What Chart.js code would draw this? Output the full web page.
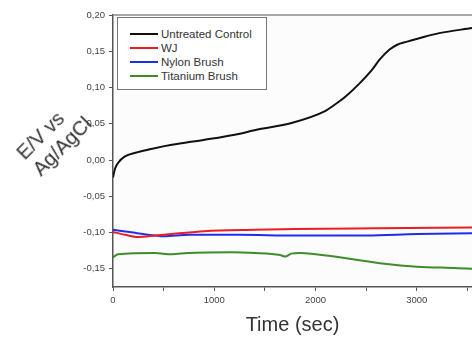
<!DOCTYPE html>
<html lang="en">
<head>
    <meta charset="UTF-8">
    <title>E/V vs Ag/AgCl over time</title>
    <script src="https://cdn.jsdelivr.net/npm/chart.js"></script>
    <style>
        body {
            margin: 0;
            background: white;
            font-family: 'Liberation Sans', Arial, sans-serif;
        }
        .wrap {
            position: relative;
            width: 472px;
            height: 337px;
            overflow: hidden;
        }
        canvas { position: absolute; left: 0; top: 0; }
        .ytitle {
            position: absolute;
            left: 12px;
            top: 148px;
            font-size: 20px;
            line-height: 23px;
            white-space: nowrap;
            text-align: left;
            color: #333;
            transform-origin: 0 0;
            transform: rotate(-45deg);
        }
        .legend {
            position: absolute;
            left: 117px;
            top: 17px;
            width: 148px;
            height: 70px;
            border: 1px solid #777;
            background: white;
            padding-top: 1px;
            box-sizing: content-box;
        }
        .legend .row {
            height: 14px;
            display: flex;
            align-items: center;
            font-size: 11.5px;
            color: #333;
        }
        .legend .row:first-child { margin-top: 8px; }
        .legend .swatch {
            width: 28px;
            height: 2px;
            margin-left: 12px;
            margin-right: 3px;
        }
    </style>
</head>
<body>
<div class="wrap">
    <canvas id="potChart" width="472" height="337"></canvas>
    <div class="ytitle">E/V vs<br>Ag/AgCl</div>
    <div class="legend" id="legend"></div>
</div>

<script>
    // values
    const seriesNames = ['Untreated Control', 'WJ', 'Nylon Brush', 'Titanium Brush'];
    const seriesColors = ['#111111', '#ec1c24', '#1f2cf0', '#3f8c2c'];

    const controlTime = [0, 20, 50, 118, 246, 400, 581, 906, 1202, 1428, 1763, 2088, 2216, 2300, 2430, 2561, 2630, 2728, 2807, 2896, 3024, 3221, 3545];
    const controlValue = [-0.024, -0.012, -0.004, 0.005, 0.011, 0.016, 0.021, 0.028, 0.035, 0.042, 0.051, 0.067, 0.079, 0.088, 0.105, 0.125, 0.138, 0.152, 0.159, 0.163, 0.168, 0.175, 0.182];

    const wjTime = [0, 120, 250, 420, 580, 900, 1400, 1800, 2600, 3545];
    const wjValue = [-0.099, -0.103, -0.106, -0.104, -0.102, -0.098, -0.096, -0.095, -0.094, -0.093];

    const nylonTime = [0, 200, 420, 500, 750, 1250, 1800, 2500, 3000, 3545];
    const nylonValue = [-0.096, -0.100, -0.104, -0.105, -0.103, -0.103, -0.104, -0.104, -0.102, -0.101];

    const titaniumTime = [0, 50, 414, 581, 740, 1172, 1400, 1650, 1700, 1760, 1850, 2000, 2286, 2680, 3004, 3400, 3545];
    const titaniumValue = [-0.134, -0.130, -0.128, -0.130, -0.128, -0.127, -0.128, -0.131, -0.133, -0.129, -0.128, -0.130, -0.135, -0.143, -0.147, -0.149, -0.150];

    const xTicks = [0, 500, 1000, 1500, 2000, 2500, 3000, 3500];
    const xTickLabels = ['0', '', '1000', '', '2000', '', '3000', ''];
    const yTicks = [-0.15, -0.10, -0.05, 0.00, 0.05, 0.10, 0.15, 0.20];
    const yTickLabels = ['-0,15', '-0,10', '-0,05', '0,00', '0,05', '0,10', '0,15', '0,20'];
    const xMin = 0, xMax = 3545;
    const yMin = -0.175, yMax = 0.20;

    const seriesTimes = [controlTime, wjTime, nylonTime, titaniumTime];
    const seriesValues = [controlValue, wjValue, nylonValue, titaniumValue];

    const tickFont = { family: "'Liberation Sans', Arial, sans-serif", size: 9.5 };
    const axisColor = '#555';

    // legend as html so it can carry a frame
    const legendEl = document.getElementById('legend');
    seriesNames.forEach((name, i) => {
        const row = document.createElement('div');
        row.className = 'row';
        const sw = document.createElement('span');
        sw.className = 'swatch';
        sw.style.background = seriesColors[i];
        row.appendChild(sw);
        row.appendChild(document.createTextNode(name));
        legendEl.appendChild(row);
    });

    const plotFrame = {
        id: 'plotFrame',
        beforeDraw(chart) {
            const { ctx, chartArea: a } = chart;
            ctx.save();
            ctx.fillStyle = '#fcfcfc';
            ctx.fillRect(a.left, a.top, a.right - a.left, a.bottom - a.top);
            ctx.restore();
        },
        afterDraw(chart) {
            const { ctx, chartArea: a } = chart;
            ctx.save();
            ctx.strokeStyle = '#8a8a8a';
            ctx.lineWidth = 1.5;
            ctx.beginPath();
            ctx.moveTo(a.left, a.top);
            ctx.lineTo(a.right, a.top);
            ctx.stroke();
            ctx.restore();
        }
    };

    const datasets = seriesNames.map((name, i) => ({
        label: name,
        data: seriesTimes[i].map((t, k) => ({ x: t, y: seriesValues[i][k] })),
        borderColor: seriesColors[i],
        backgroundColor: seriesColors[i],
        borderWidth: 2,
        pointRadius: 0,
        cubicInterpolationMode: 'monotone'
    }));

    new Chart(document.getElementById('potChart'), {
        type: 'line',
        data: { datasets: datasets },
        options: {
            responsive: false,
            animation: false,
            layout: { padding: { top: 15, left: 0, right: 0, bottom: 0 } },
            plugins: {
                legend: { display: false },
                tooltip: { enabled: false }
            },
            scales: {
                x: {
                    type: 'linear',
                    min: xMin,
                    max: xMax,
                    afterFit: s => { s.height = 50; },
                    afterBuildTicks: s => { s.ticks = xTicks.map(v => ({ value: v })); },
                    ticks: {
                        autoSkip: false,
                        maxRotation: 0,
                        padding: 4,
                        color: '#444',
                        font: tickFont,
                        callback: (v, i) => xTickLabels[i]
                    },
                    grid: {
                        drawOnChartArea: false,
                        tickLength: 4,
                        tickColor: axisColor
                    },
                    border: { color: axisColor, width: 1.5 },
                    title: {
                        display: true,
                        text: 'Time (sec)',
                        color: '#333',
                        padding: { top: 0, bottom: 0 },
                        font: { family: "'Liberation Sans', Arial, sans-serif", size: 20 }
                    }
                },
                y: {
                    min: yMin,
                    max: yMax,
                    afterFit: s => { s.width = 113; },
                    afterBuildTicks: s => { s.ticks = yTicks.map(v => ({ value: v })); },
                    ticks: {
                        autoSkip: false,
                        padding: 4,
                        color: '#444',
                        font: tickFont,
                        callback: (v, i) => yTickLabels[i]
                    },
                    grid: {
                        drawOnChartArea: false,
                        tickLength: 4,
                        tickColor: axisColor
                    },
                    border: { color: axisColor, width: 1.5 }
                }
            }
        },
        plugins: [plotFrame]
    });
</script>
</body>
</html>
